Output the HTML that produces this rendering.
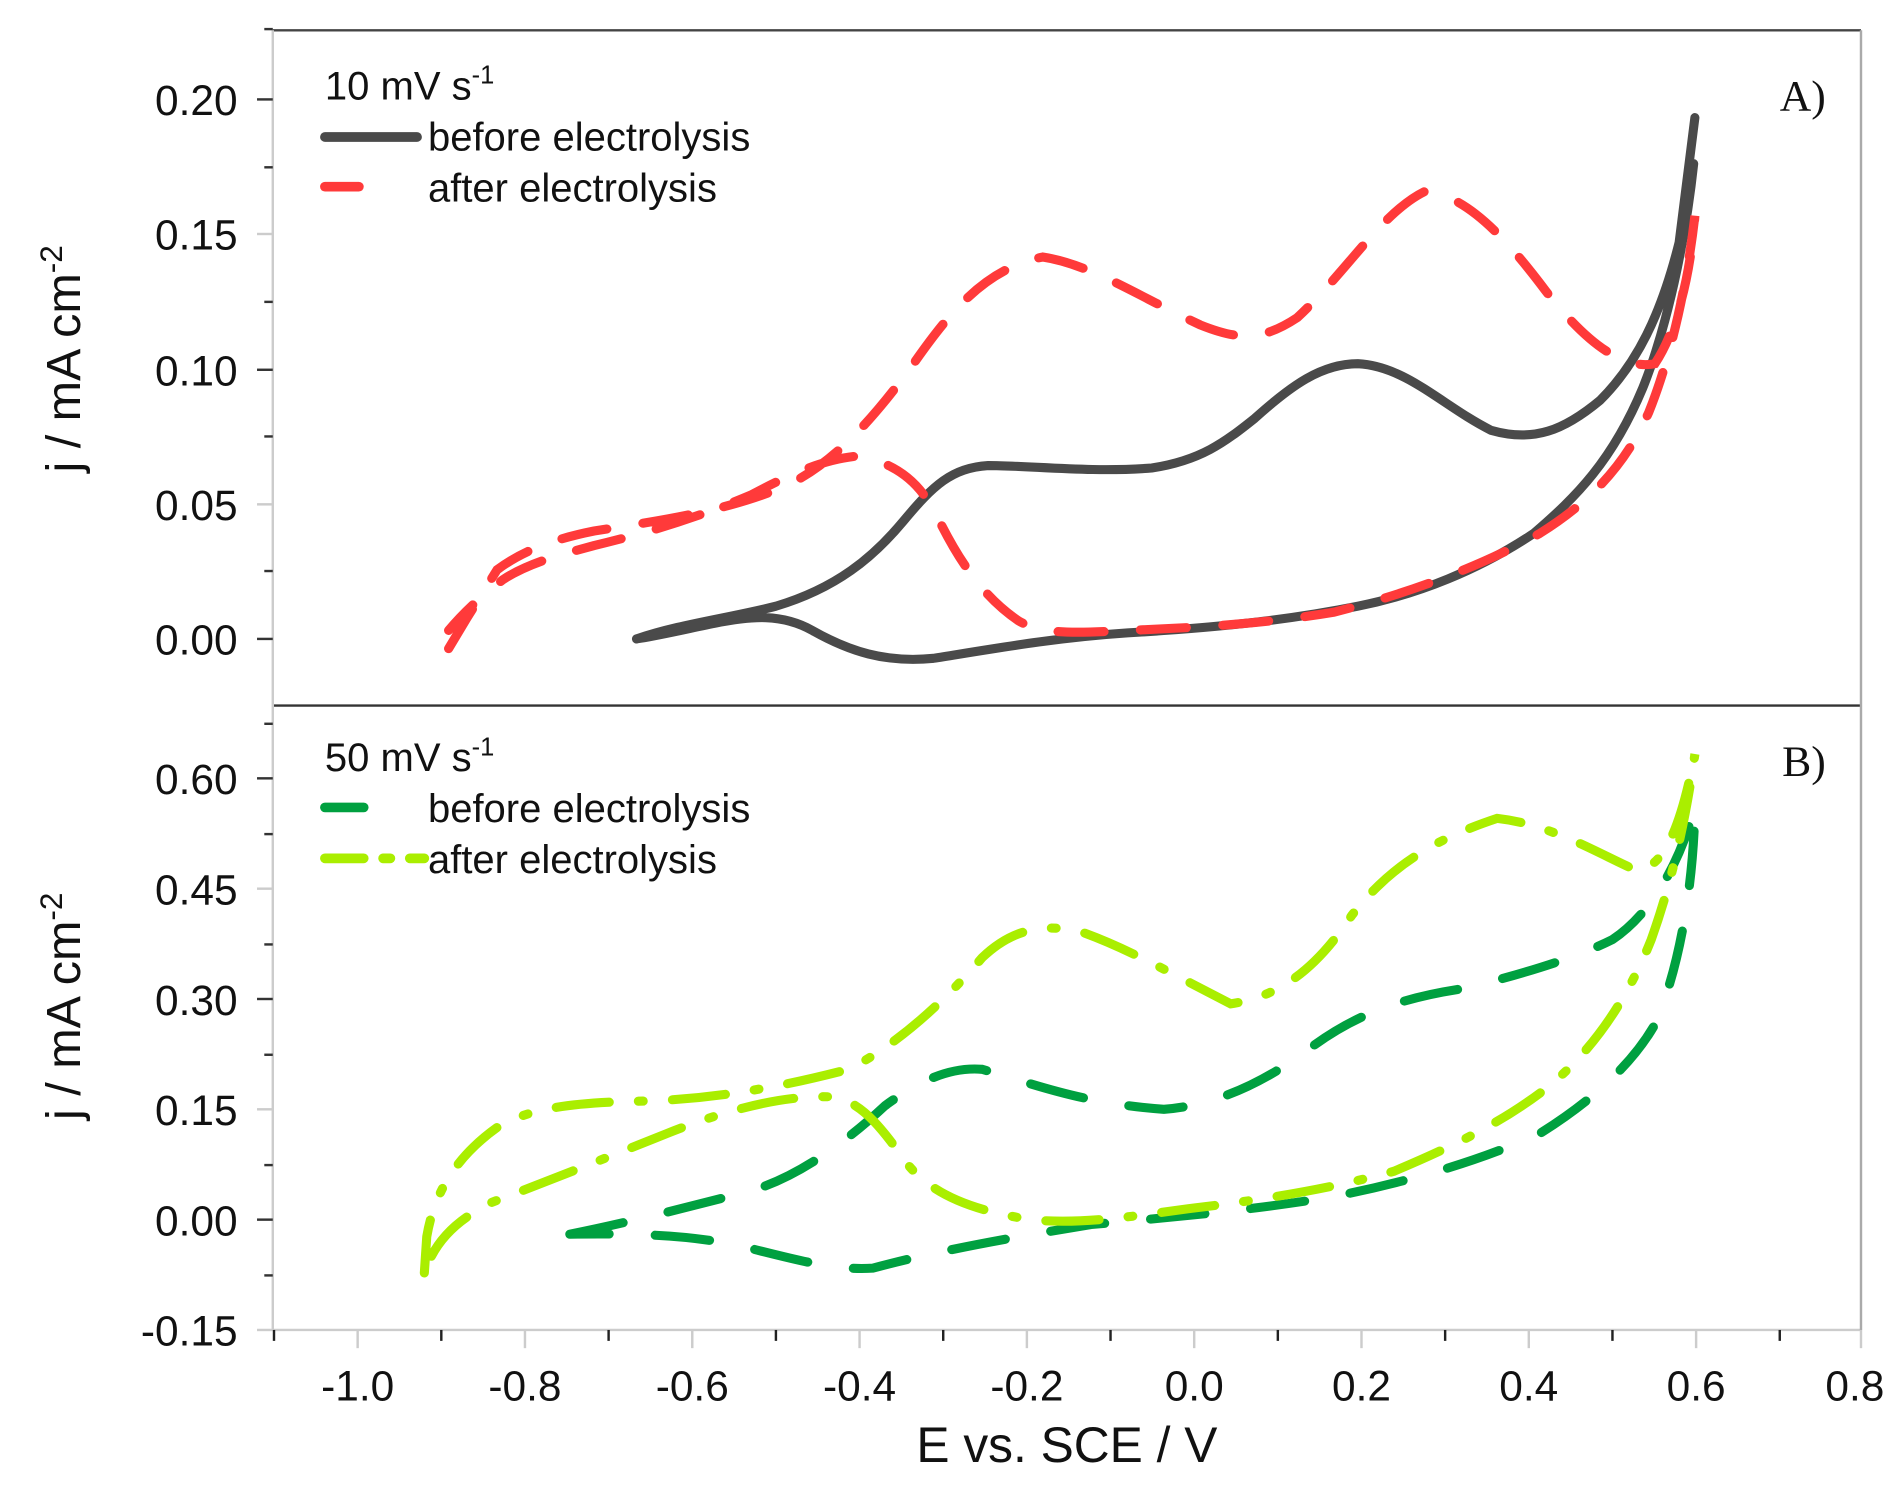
<!DOCTYPE html>
<html><head><meta charset="utf-8"><style>
html,body{margin:0;padding:0;background:#fff}
svg{display:block}
text{font-family:"Liberation Sans",sans-serif;fill:#111}
</style></head><body>
<svg width="1901" height="1490" viewBox="0 0 1568 1229" xmlns="http://www.w3.org/2000/svg">
<rect width="1568" height="1229" fill="#fff"/>
<line x1="225" y1="25" x2="1535" y2="25" stroke="#444" stroke-width="2"/>
<line x1="225" y1="582" x2="1535" y2="582" stroke="#333" stroke-width="2"/>
<line x1="225" y1="1097" x2="1535" y2="1097" stroke="#ccc" stroke-width="2"/>
<line x1="225" y1="25" x2="225" y2="1097" stroke="#ccc" stroke-width="2"/>
<line x1="1535" y1="25" x2="1535" y2="1097" stroke="#aaa" stroke-width="2"/>
<g stroke="#333" stroke-width="2">
<line x1="212" y1="82" x2="225" y2="82"/><line x1="212" y1="193" x2="225" y2="193" stroke="#ccc"/><line x1="212" y1="305" x2="225" y2="305"/><line x1="212" y1="416" x2="225" y2="416" stroke="#ccc"/><line x1="212" y1="527" x2="225" y2="527"/>
<line x1="218" y1="138" x2="225" y2="138"/><line x1="218" y1="249" x2="225" y2="249"/><line x1="218" y1="360" x2="225" y2="360"/><line x1="218" y1="471" x2="225" y2="471"/><line x1="218" y1="24" x2="225" y2="24"/>
<line x1="212" y1="642" x2="225" y2="642"/><line x1="212" y1="733" x2="225" y2="733" stroke="#ccc"/><line x1="212" y1="824" x2="225" y2="824"/><line x1="212" y1="915" x2="225" y2="915" stroke="#ccc"/><line x1="212" y1="1006" x2="225" y2="1006"/><line x1="212" y1="1097" x2="225" y2="1097" stroke="#ccc"/>
<line x1="218" y1="597" x2="225" y2="597"/><line x1="218" y1="688" x2="225" y2="688"/><line x1="218" y1="779" x2="225" y2="779"/><line x1="218" y1="870" x2="225" y2="870"/><line x1="218" y1="961" x2="225" y2="961"/><line x1="218" y1="1052" x2="225" y2="1052"/>
</g>
<g stroke="#ccc" stroke-width="2">
<line x1="295" y1="1097" x2="295" y2="1112"/><line x1="433" y1="1097" x2="433" y2="1112"/><line x1="571" y1="1097" x2="571" y2="1112"/><line x1="709" y1="1097" x2="709" y2="1112"/><line x1="847" y1="1097" x2="847" y2="1112"/><line x1="985" y1="1097" x2="985" y2="1112"/><line x1="1123" y1="1097" x2="1123" y2="1112"/><line x1="1261" y1="1097" x2="1261" y2="1112"/><line x1="1399" y1="1097" x2="1399" y2="1112"/><line x1="1535" y1="1097" x2="1535" y2="1112"/>
</g>
<g stroke="#222" stroke-width="2">
<line x1="226" y1="1097" x2="226" y2="1106"/><line x1="364" y1="1097" x2="364" y2="1106"/><line x1="502" y1="1097" x2="502" y2="1106"/><line x1="640" y1="1097" x2="640" y2="1106"/><line x1="778" y1="1097" x2="778" y2="1106"/><line x1="916" y1="1097" x2="916" y2="1106"/><line x1="1054" y1="1097" x2="1054" y2="1106"/><line x1="1192" y1="1097" x2="1192" y2="1106"/><line x1="1330" y1="1097" x2="1330" y2="1106"/><line x1="1468" y1="1097" x2="1468" y2="1106"/>
</g>
<g font-size="35" text-anchor="end">
<text x="196" y="95">0.20</text><text x="196" y="206">0.15</text><text x="196" y="318">0.10</text><text x="196" y="429">0.05</text><text x="196" y="540">0.00</text>
<text x="196" y="655">0.60</text><text x="196" y="746">0.45</text><text x="196" y="837">0.30</text><text x="196" y="928">0.15</text><text x="196" y="1019">0.00</text><text x="196" y="1110">-0.15</text>
</g>
<g font-size="35" text-anchor="middle">
<text x="295" y="1155">-1.0</text><text x="433" y="1155">-0.8</text><text x="571" y="1155">-0.6</text><text x="709" y="1155">-0.4</text><text x="847" y="1155">-0.2</text><text x="985" y="1155">0.0</text><text x="1123" y="1155">0.2</text><text x="1261" y="1155">0.4</text><text x="1399" y="1155">0.6</text><text x="1530" y="1155">0.8</text>
</g>
<text x="880" y="1206" font-size="41" text-anchor="middle">E vs. SCE / V</text>
<text transform="translate(66,296) rotate(-90)" font-size="40" text-anchor="middle">j / mA cm<tspan dy="-15" font-size="26">-2</tspan></text>
<text transform="translate(66,830) rotate(-90)" font-size="40" text-anchor="middle">j / mA cm<tspan dy="-15" font-size="26">-2</tspan></text>
<text x="1468" y="91" font-size="36" style="font-family:'Liberation Serif',serif">A)</text>
<text x="1470" y="640" font-size="36" style="font-family:'Liberation Serif',serif">B)</text>
<g font-size="33">
<text x="268" y="82">10 mV s<tspan dy="-13" font-size="21">-1</tspan></text>
<text x="353" y="124">before electrolysis</text>
<text x="353" y="166">after electrolysis</text>
<text x="268" y="636">50 mV s<tspan dy="-13" font-size="21">-1</tspan></text>
<text x="353" y="678">before electrolysis</text>
<text x="353" y="720">after electrolysis</text>
</g>
<line x1="268" y1="113" x2="344" y2="113" stroke="#4a4a4a" stroke-width="8" stroke-linecap="round"/>
<line x1="268" y1="154" x2="296" y2="154" stroke="#ff3a3a" stroke-width="8" stroke-linecap="round"/>
<line x1="268" y1="666" x2="300" y2="666" stroke="#00a040" stroke-width="8" stroke-linecap="round"/>
<line x1="268" y1="708" x2="300" y2="708" stroke="#aaee00" stroke-width="8" stroke-linecap="round"/>
<line x1="316" y1="708" x2="322" y2="708" stroke="#aaee00" stroke-width="8" stroke-linecap="round"/>
<line x1="338" y1="708" x2="350" y2="708" stroke="#aaee00" stroke-width="8" stroke-linecap="round"/>
<path fill="none" stroke="#4a4a4a" stroke-width="7.5" stroke-linejoin="round" stroke-linecap="round" d="M525,527 C560,515 600,510 640,500 C690,485 720,460 745,430 C770,400 785,386 815,384 C850,384 900,390 950,386 C990,380 1010,365 1035,345 C1065,318 1090,300 1120,300 C1160,302 1190,335 1230,355 C1265,365 1290,355 1320,330 C1350,300 1370,260 1385,200 L1398,97 M1397,135 C1390,200 1375,270 1355,320 C1330,380 1300,410 1265,440 C1220,470 1170,490 1120,500 C1060,512 1000,518 930,522 C870,526 820,535 770,543 C730,547 700,537 670,520 C645,506 620,508 590,514 C565,519 545,524 525,527"/>
<path fill="none" stroke="#ff3a3a" stroke-width="7.5" stroke-linecap="round" stroke-dasharray="38,30" d="M370,535 L385,510 L410,470 C430,455 455,445 490,438 C540,430 600,422 650,400 C690,380 720,345 750,305 C780,262 810,222 860,212 C900,218 940,245 990,268 C1020,280 1040,282 1070,262 C1110,225 1140,175 1175,158 C1210,160 1245,200 1275,240 C1310,285 1340,305 1365,300 C1385,270 1395,220 1398,178 C1392,230 1380,290 1360,340 C1340,385 1310,415 1270,440 C1220,468 1160,490 1100,505 C1040,515 980,518 930,520 C890,522 860,524 840,512 C815,495 795,470 775,430 C760,400 745,385 710,376 C680,378 650,392 620,408 C580,425 540,438 490,450 C460,458 435,465 415,478 C395,493 380,508 370,520"/>
<path fill="none" stroke="#00a040" stroke-width="7.5" stroke-linecap="round" stroke-dasharray="45,38" d="M470,1018 C520,1008 570,995 620,982 C660,970 700,940 730,912 C760,890 785,880 810,882 C850,893 890,910 960,915 C1000,912 1040,895 1080,865 C1120,835 1160,822 1210,815 C1260,802 1300,790 1330,775 C1360,755 1385,715 1398,665 C1397,730 1385,800 1365,845 C1345,880 1310,910 1270,935 C1220,958 1160,975 1100,987 C1040,997 980,1003 900,1010 C840,1020 780,1030 720,1046 C690,1048 660,1040 620,1030 C580,1020 540,1017 470,1018"/>
<path fill="none" stroke="#aaee00" stroke-width="7.5" stroke-linecap="round" stroke-dasharray="44,24,4,24" d="M350,1050 L352,1020 C358,985 375,955 410,930 C440,912 480,909 540,908 C600,905 650,895 700,882 C740,862 780,825 810,790 C835,766 860,762 890,768 C930,782 970,805 1015,828 C1055,822 1085,800 1115,755 C1150,710 1190,690 1235,675 C1280,680 1320,705 1350,718 C1370,716 1385,690 1398,622 C1390,680 1378,730 1362,775 C1340,830 1310,870 1275,898 C1240,925 1200,945 1150,966 C1100,980 1040,990 980,997 C930,1004 890,1010 850,1006 C800,998 770,985 750,962 C730,935 715,912 690,905 C650,902 600,915 550,935 C500,955 450,975 405,992 C380,1005 360,1020 350,1050"/>
</svg>
</body></html>
